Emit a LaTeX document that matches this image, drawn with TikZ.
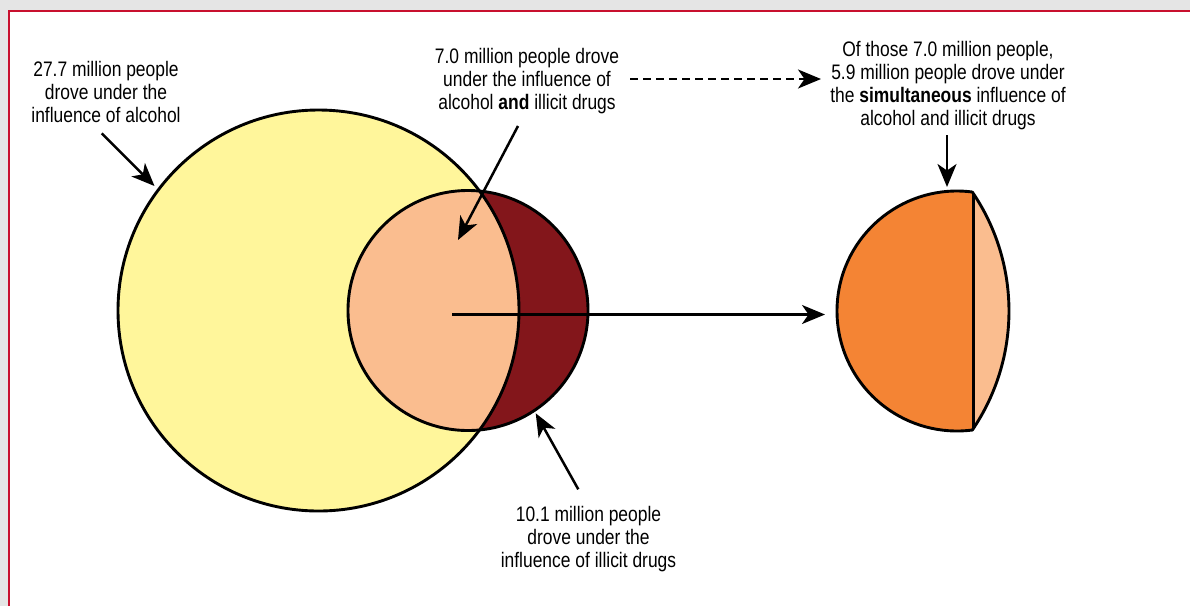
\documentclass[tikz,border=0pt]{standalone}
\usepackage{fontspec}
\setmainfont{Liberation Sans}[FakeStretch=0.83]
\usetikzlibrary{arrows.meta}
\definecolor{bggray}{HTML}{E5E5E5}
\definecolor{framered}{HTML}{C8102E}
\definecolor{paleyellow}{HTML}{FFF69B}
\definecolor{peach}{HTML}{FABD8F}
\definecolor{darkred}{HTML}{83161B}
\definecolor{deeporange}{HTML}{F48434}
\tikzset{
  lbl/.style={align=center, inner sep=0pt, anchor=north, font=\fontsize{21}{23}\selectfont},
  outl/.style={draw=black, line width=2.9pt},
  ptr/.style={line width=2.5pt, -{Stealth[length=23pt,width=19pt,inset=6.5pt]}},
}
\begin{document}
\begin{tikzpicture}[x=1pt,y=-1pt]
\useasboundingbox (0,0) rectangle (1190,606);
% background and frame
\fill[bggray] (0,0) rectangle (1190,606);
\fill[white] (9,11) rectangle (1190,606);
\draw[framered, line width=2pt] (9,606) -- (9,11) -- (1190,11);

% Venn diagram
\fill[paleyellow] (318.5,310.5) circle[radius=200.5];
\fill[darkred] (468,310.5) circle[radius=120];
\begin{scope}
  \clip (468,310.5) circle[radius=120];
  \fill[peach] (318.5,310.5) circle[radius=200.5];
\end{scope}
\draw[outl] (318.5,310.5) circle[radius=200.5];
\draw[outl] (468,310.5) circle[radius=120];

% right half-lens shape
\begin{scope}
  \clip (957,311) circle[radius=120];
  \clip (797.5,311) circle[radius=211.5];
  \fill[peach] (900,150) rectangle (1100,470);
  \fill[deeporange] (800,150) rectangle (973.5,470);
  \draw[line width=2.7pt] (973.5,150) -- (973.5,470);
\end{scope}
\draw[outl, line join=round] (972.3,192) arc[start angle=-82.67, end angle=-277.33, radius=120]
  arc[start angle=34.25, end angle=-34.25, radius=211.5] -- cycle;

% labels
\node[lbl] (t1) at (106,61) {27.7 million people\\drove under the\\influence of alcohol};
\node[lbl] (t2) at (527,48) {7.0 million people drove\\under the influence of\\alcohol \textbf{and} illicit drugs};
\node[lbl] (t3) at (948,41) {Of those 7.0 million people,\\5.9 million people drove under\\the \textbf{simultaneous} influence of\\alcohol and illicit drugs};
\node[lbl] (t4) at (588.5,506) {10.1 million people\\drove under the\\influence of illicit drugs};

% connector end points
\coordinate (a1s) at (101.7,133.3);
\coordinate (a1e) at (154.5,186);
\coordinate (a2s) at (518,126);
\coordinate (a2e) at (458,240);
\coordinate (a3s) at (630,79);
\coordinate (a3e) at (821,79);
\coordinate (a4s) at (947,135);
\coordinate (a4e) at (947,187);
\coordinate (a5s) at (452,314.5);
\coordinate (a5e) at (825,314.5);
\coordinate (a6s) at (578.3,489.3);
\coordinate (a6e) at (535.7,413.3);

\draw[ptr] (a1s) -- (a1e);
\draw[ptr] (a2s) -- (a2e);
\draw[ptr, dash pattern=on 8pt off 5pt] (a3s) -- (a3e);
\draw[ptr] (a4s) -- (a4e);
\draw[ptr, line width=2.3pt] (a5s) -- (a5e);
\draw[ptr] (a6s) -- (a6e);
\end{tikzpicture}
\end{document}
